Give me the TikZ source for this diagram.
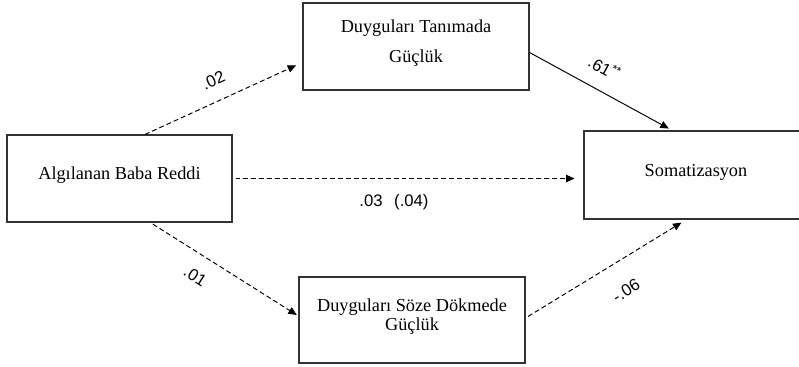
\documentclass[tikz,border=0pt]{standalone}
\usepackage{fontspec}
\setmainfont{Liberation Serif}
\newfontfamily\lblfont{Liberation Sans}
\usetikzlibrary{arrows.meta,positioning}
\tikzset{
  box/.style={draw=black!80,line width=0.6pt,minimum width=4.5cm,minimum height=1.74cm,inner sep=0pt,font=\fontsize{10.4}{12}\selectfont},
  arr/.style={-{Triangle[length=4.8pt,width=4.2pt]},line width=0.55pt},
  darr/.style={arr,dash pattern=on 2.8pt off 1.7pt},
  lbl/.style={font=\lblfont\fontsize{9.5}{11}\selectfont,sloped,inner sep=1pt},
}
\newcommand{\boxtxt}[1]{\raisebox{1.8pt}[\height][\depth]{\begin{tabular}{@{}c@{}}#1\end{tabular}}}

\begin{document}
\begin{tikzpicture}[x=0.02cm,y=-0.02cm]
  \useasboundingbox (0,0) rectangle (799,366);
  \node[box] (abr) at (119.5,178.5) {\boxtxt{Algılanan Baba Reddi}};
  \node[box,minimum width=4.52cm] (dtg) at (416,46.5) {\boxtxt{Duyguları Tanımada\\[5pt] Güçlük}};
  \node[box,minimum width=4.48cm,minimum height=1.76cm] (som) at (696,175) {\boxtxt{Somatizasyon}};
  \node[box,minimum width=4.52cm,minimum height=1.72cm] (dsd) at (412,320) {\boxtxt{Duyguları Söze Dökmede\\[-1pt] Güçlük}};
  % yollar
  \draw[darr,shorten >=0.14cm] (abr.60) -- node[lbl,above=7.4pt,pos=0.49] {.02} (dtg.188);
  \draw[arr,shorten >=0.08cm] (dtg.-3) -- node[lbl,above=7.6pt,pos=0.45] {.61\textsuperscript{**}} (som.118);
  \draw[darr,shorten <=0.06cm,shorten >=0.18cm] (abr.east) -- node[lbl,below=7.5pt,pos=0.46] {.03\hspace{0.7em}(.04)} (abr.east -| som.west);
  \draw[darr,shorten <=0.06cm,shorten >=0.04cm] (abr.-55) -- node[lbl,below=7.5pt,pos=0.38] {.01} (dsd.178);
  \draw[darr,shorten <=0.06cm,shorten >=0.12cm] (dsd.1) -- node[lbl,below=12pt,pos=0.53] {-.06} (som.-102);
\end{tikzpicture}
\end{document}
